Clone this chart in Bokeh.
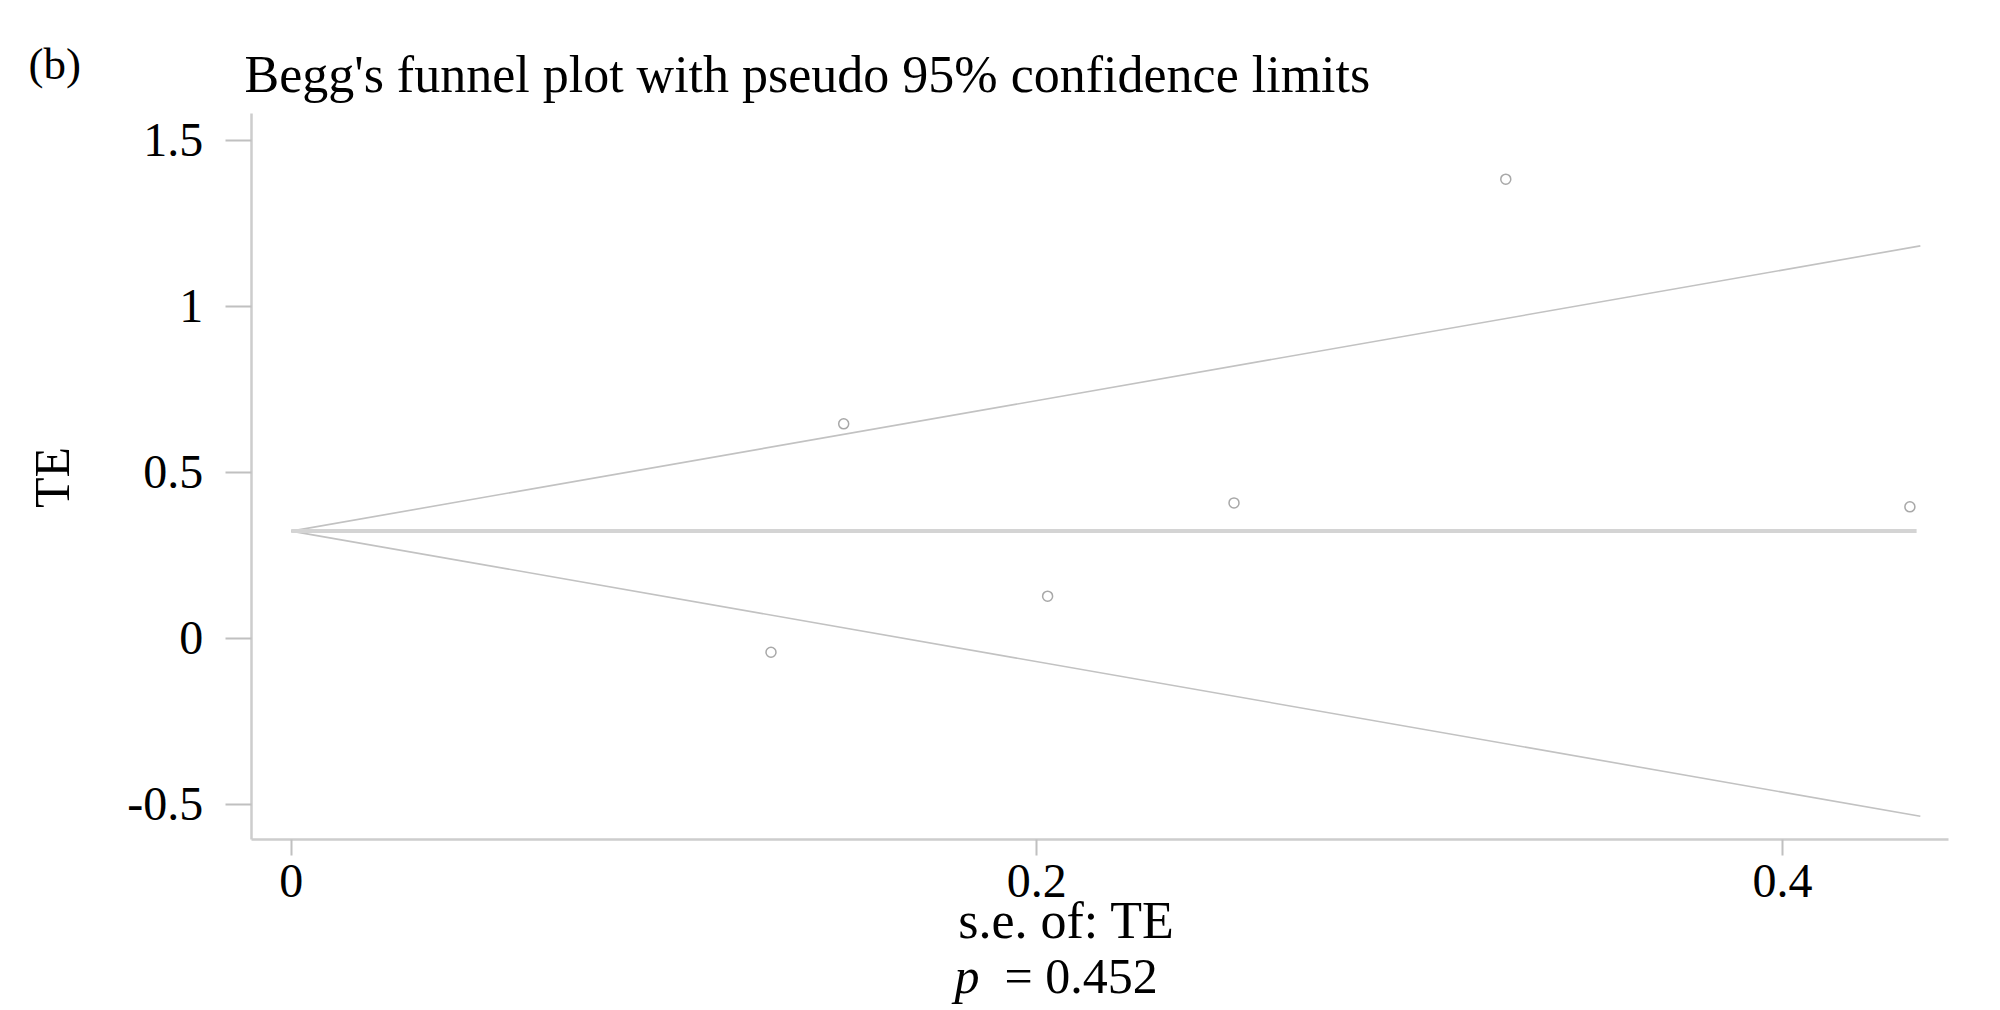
import math
from bokeh.plotting import figure
from bokeh.models import Range1d, FixedTicker, Label
from bokeh.embed import file_html
from bokeh.resources import INLINE

# ---- data ----
se_values = [0.1287, 0.1482, 0.2029, 0.2529, 0.3258, 0.4342]
te_values = [-0.043, 0.645, 0.126, 0.407, 1.382, 0.395]

pooled_se = [0.0, 0.436]
pooled_te = [0.322, 0.322]
limit_se = [0.0, 0.437]
upper_limit = [0.322, 1.181]
lower_limit = [0.322, -0.537]

x_ticks = [0, 0.2, 0.4]
x_tick_labels = ["0", "0.2", "0.4"]
y_ticks = [-0.5, 0, 0.5, 1, 1.5]
y_tick_labels = ["-0.5", "0", "0.5", "1", "1.5"]

# plotted region (axis extents) in data units
x_axis_extent = (-0.0107, 0.4445)
y_axis_extent = (-0.6078, 1.5798)

title_text = "Begg's funnel plot with pseudo 95% confidence limits"
panel_tag = "(b)"
x_label = "s.e. of: TE"
y_label = "TE"
p_label_italic = "p"
p_label_rest = "= 0.452"

FONT = "Liberation Serif"
GREY_LINE = "#c2c2c2"
AXIS_GREY = "#cdcdcd"

W, H = 1998, 1008
p = figure(width=W, height=H, output_backend="svg", toolbar_location=None, title=None,
           x_range=Range1d(-0.077978, 0.457967), y_range=Range1d(-1.115964, 1.920181),
           min_border_left=0, min_border_top=0, min_border_right=0, min_border_bottom=0)
p.outline_line_color = None
p.xgrid.visible = False
p.ygrid.visible = False
p.background_fill_color = "white"
p.border_fill_color = "white"

for ax in (p.xaxis[0], p.yaxis[0]):
    ax.axis_line_color = AXIS_GREY
    ax.axis_line_width = 2.5
    ax.major_tick_line_color = "#c0c0c0"
    ax.major_tick_line_width = 2
    ax.major_tick_in = 0
    ax.minor_tick_line_color = None
    ax.major_label_text_font = FONT
    ax.major_label_text_font_size = "48px"
    ax.major_label_text_color = "black"

p.xaxis[0].fixed_location = y_axis_extent[0]
p.xaxis[0].bounds = x_axis_extent
p.xaxis[0].ticker = FixedTicker(ticks=x_ticks)
p.xaxis[0].major_label_overrides = {t: l for t, l in zip(x_ticks, x_tick_labels)}
p.xaxis[0].major_tick_out = 16
p.xaxis[0].major_label_standoff = 9

p.yaxis[0].fixed_location = x_axis_extent[0]
p.yaxis[0].bounds = y_axis_extent
p.yaxis[0].ticker = FixedTicker(ticks=y_ticks)
p.yaxis[0].major_label_overrides = {t: l for t, l in zip(y_ticks, y_tick_labels)}
p.yaxis[0].major_tick_out = 26
p.yaxis[0].major_label_standoff = 22

# funnel limits and pooled estimate
p.line(limit_se, upper_limit, line_color=GREY_LINE, line_width=1.6)
p.line(limit_se, lower_limit, line_color=GREY_LINE, line_width=1.6)
p.line(pooled_se, pooled_te, line_color="#d4d4d4", line_width=4)

# studies
p.scatter(se_values, te_values, marker="circle", size=10, fill_color=None,
          line_color="#a8a8a8", line_width=1.5)

def add_label(text, x, y, size, align="left", baseline="alphabetic", angle=0.0, style="normal"):
    # x, y in screen pixels: x from the left edge, y from the bottom edge
    p.add_layout(Label(text=text, x=x, y=y, x_units="screen", y_units="screen",
                       text_font=FONT, text_font_size=size, text_color="black",
                       text_align=align, text_baseline=baseline, angle=angle,
                       text_font_style=style))

add_label(panel_tag, 28, H - 63, "45px")
add_label(title_text, 244, H - 74, "52px")
add_label(y_label, 51, H - 477, "50px", align="center", angle=math.pi / 2)
add_label(x_label, 1066, H - 920, "52px", align="center")
add_label(p_label_italic, 954, H - 975, "50px", style="italic")
add_label(p_label_rest, 1004, H - 975, "50px")

open("out.html", "w").write(file_html(p, INLINE))
